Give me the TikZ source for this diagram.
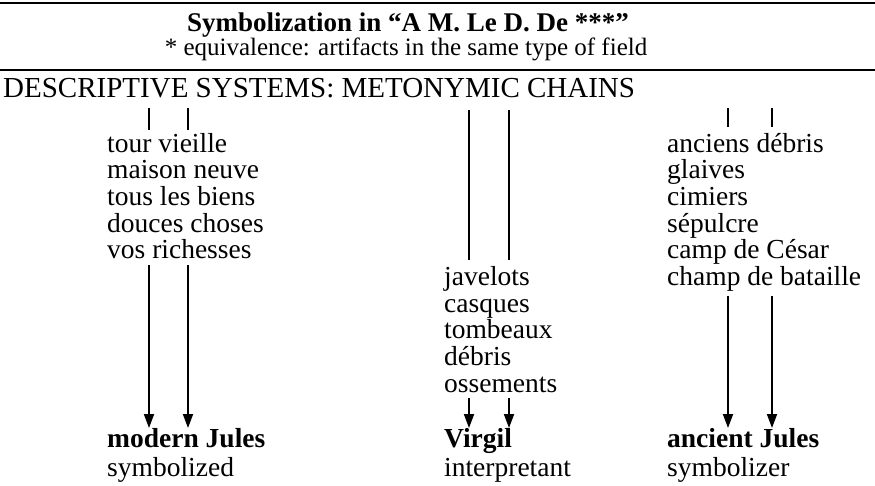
\documentclass[tikz,border=0pt]{standalone}
\usepackage{fontspec}
\setmainfont{Liberation Serif}
\usepackage{tikz}
\usetikzlibrary{arrows.meta}
\tikzset{
  >={Triangle[length=14pt,width=10pt]},
  srule/.style={black, line width=1.8pt},
  stitle/.style={font=\fontsize{27}{30}\selectfont\bfseries, inner sep=0pt, anchor=base},
  ssub/.style={font=\fontsize{25}{28}\selectfont, inner sep=0pt, anchor=base},
  shead/.style={font=\fontsize{29}{32}\selectfont, inner sep=0pt, anchor=base west},
  sitem/.style={font=\fontsize{27.5}{30}\selectfont, inner sep=0pt, anchor=base west},
  sname/.style={font=\fontsize{27.5}{30}\selectfont\bfseries, inner sep=0pt, anchor=base west},
  slink/.style={black, line width=1.8pt},
  sarr/.style={->, black, line width=1.8pt},
}

\begin{document}
\begin{tikzpicture}[x=1pt,y=-1pt]
  \useasboundingbox (0,0) rectangle (875,485);

  % heading
  \draw[srule] (0,3) -- (875,3);
  \node[stitle] (title) at (408,31) {Symbolization in “A M. Le D. De ***”};
  \node[ssub] (sub) at (406,55) {* equivalence: artifacts in the same type of field};
  \draw[srule] (0,70) -- (875,70);
  \node[shead] (head) at (3,97) {DESCRIPTIVE SYSTEMS: METONYMIC CHAINS};

  % column 1: modern Jules
  \foreach \w [count=\i] in {tour vieille, maison neuve, tous les biens,
                             douces choses, vos richesses}
    \node[sitem] (a\i) at (107,{152+(\i-1)*26.7}) {\w};
  \node[sname] (modern) at (107,447) {modern Jules};
  \node[sitem] (symbolized) at (107,476) {symbolized};

  % column 2: Virgil
  \foreach \w [count=\i] in {javelots, casques, tombeaux, débris, ossements}
    \node[sitem] (b\i) at (444,{285.5+(\i-1)*26.7}) {\w};
  \node[sname] (virgil) at (444,447) {Virgil};
  \node[sitem] (interpretant) at (444,476) {interpretant};

  % column 3: ancient Jules
  \foreach \w [count=\i] in {anciens débris, glaives, cimiers, sépulcre,
                             camp de César, champ de bataille}
    \node[sitem] (c\i) at (667,{152+(\i-1)*26.7}) {\w};
  \node[sname] (ancient) at (667,447) {ancient Jules};
  \node[sitem] (symbolizer) at (667,476) {symbolizer};

  % chains
  \foreach \x [count=\j] in {149,188} {
    \coordinate (atop\j) at (\x,108);
    \coordinate (abot\j) at (\x,130);
    \coordinate (afrom\j) at (\x,265);
    \coordinate (ato\j) at (\x,428);
    \draw[slink] (atop\j) -- (abot\j);
    \draw[sarr] (afrom\j) -- (ato\j);
  }
  \foreach \x [count=\j] in {469,509} {
    \coordinate (btop\j) at (\x,110);
    \coordinate (bbot\j) at (\x,260);
    \coordinate (bfrom\j) at (\x,398);
    \coordinate (bto\j) at (\x,428);
    \draw[slink] (btop\j) -- (bbot\j);
    \draw[sarr] (bfrom\j) -- (bto\j);
  }
  \foreach \x [count=\j] in {728,772} {
    \coordinate (ctop\j) at (\x,108);
    \coordinate (cbot\j) at (\x,127);
    \coordinate (cfrom\j) at (\x,296);
    \coordinate (cto\j) at (\x,428);
    \draw[slink] (ctop\j) -- (cbot\j);
    \draw[sarr] (cfrom\j) -- (cto\j);
  }

\end{tikzpicture}
\end{document}
